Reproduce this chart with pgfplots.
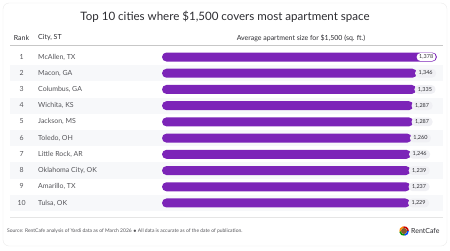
\documentclass[border=0pt]{standalone}
\usepackage{pgfplots}
\pgfplotsset{compat=1.18}
\usepackage{pgfplotstable}
\usepackage{fontspec}
\setmainfont{Lato}
\definecolor{barpurple}{RGB}{124,36,184}
\definecolor{bandgray}{RGB}{247,248,250}
\definecolor{rowtext}{RGB}{85,85,90}
\definecolor{headtext}{RGB}{45,45,50}
\definecolor{pillgray}{RGB}{240,240,244}
\pgfplotstableread{
rank size
1 1378
}\topcity
\pgfplotstableread{
rank size
2 1346
3 1335
4 1287
5 1287
6 1260
7 1246
8 1239
9 1237
10 1229
}\othercities
\begin{document}
\begin{tikzpicture}
\begin{scope}[x=1bp,y=1bp]
\path (0,0) rectangle (450,250);
\draw[black!8, fill=white, rounded corners=6bp] (3,4) rectangle (447,247);
\node[font=\fontsize{11.6}{13}\selectfont, text=headtext] at (225,233) {Top 10 cities where \$1,500 covers most apartment space};
\node[font=\fontsize{7}{8}\selectfont, text=headtext] at (21.5,212) {Rank};
\node[font=\fontsize{7}{8}\selectfont, text=headtext, anchor=west, inner sep=0pt] at (38,212) {City, ST};
\node[font=\fontsize{7}{8}\selectfont, text=headtext] at (301,212) {Average apartment size for \$1,500 (sq. ft.)};
\draw[black!22, line width=0.8bp] (10,205) -- (443,205);
\foreach \r in {2,4,6,8,10} {
  \fill[bandgray] (10,{250-57-(\r-1)*16.22+8.11}) rectangle (443,{250-57-(\r-1)*16.22-8.11});
}
\end{scope}
\begin{axis}[
  at={(162bp,201.1bp)}, anchor=north west,
  scale only axis, width=278bp, height=162.2bp,
  xmin=0, xmax=4630, ymin=0.5, ymax=10.5, y dir=reverse,
  axis line style={draw=none}, tick style={draw=none},
  xtick=\empty, ytick={1,...,10},
  yticklabels={
    {\makebox[19bp][c]{1}\hspace{7bp}McAllen, TX},
    {\makebox[19bp][c]{2}\hspace{7bp}Macon, GA},
    {\makebox[19bp][c]{3}\hspace{7bp}Columbus, GA},
    {\makebox[19bp][c]{4}\hspace{7bp}Wichita, KS},
    {\makebox[19bp][c]{5}\hspace{7bp}Jackson, MS},
    {\makebox[19bp][c]{6}\hspace{7bp}Toledo, OH},
    {\makebox[19bp][c]{7}\hspace{7bp}Little Rock, AR},
    {\makebox[19bp][c]{8}\hspace{7bp}Oklahoma City, OK},
    {\makebox[19bp][c]{9}\hspace{7bp}Amarillo, TX},
    {\makebox[19bp][c]{10}\hspace{7bp}Tulsa, OK}},
  yticklabel style={anchor=west, xshift=-150bp, inner sep=0pt, font=\fontsize{7}{8}\selectfont, text=rowtext},
  clip=false,
  /pgf/number format/.cd, 1000 sep={,}, assume math mode=true,
]
\addplot[xbar, bar width=9bp, draw=none, fill=barpurple, rounded corners=4.5bp,
  point meta=explicit,
  nodes near coords={\pgfmathprintnumber{\pgfplotspointmeta}},
  nodes near coords style={anchor=west, xshift=-2bp, fill=pillgray, rounded corners=4bp, inner xsep=3.5bp, inner ysep=2bp, font=\fontsize{5.5}{6}\selectfont, text=headtext}]
  table[x expr=\thisrow{size}+2900, y=rank, meta=size]{\othercities};
\addplot[xbar, bar width=9bp, draw=none, fill=barpurple, rounded corners=4.5bp,
  point meta=explicit,
  nodes near coords={\pgfmathprintnumber{\pgfplotspointmeta}},
  nodes near coords style={anchor=east, xshift=-1bp, fill=white, rounded corners=3.5bp, inner xsep=2.5bp, inner ysep=1.5bp, font=\fontsize{5.5}{6}\selectfont, text=headtext}]
  table[x expr=\thisrow{size}+3200, y=rank, meta=size]{\topcity};
\end{axis}
\begin{scope}[x=1bp,y=1bp]
\draw[black!10, line width=0.6bp] (10,33) -- (443,33);
\node[font=\fontsize{5}{6}\selectfont, text=rowtext, anchor=west, inner sep=0pt] at (7,19) {Source: RentCafe analysis of Yardi data as of March 2026 $\bullet$ All data is accurate as of the date of publication.};
\begin{scope}[shift={(404,19)}]
\draw[line width=1.6bp, red!80!black] (0:4) arc (0:100:4);
\draw[line width=1.6bp, orange!90!yellow] (100:4) arc (100:190:4);
\draw[line width=1.6bp, green!60!black] (190:4) arc (190:280:4);
\draw[line width=1.6bp, blue!70!cyan] (280:4) arc (280:360:4);
\fill[brown!70!black] (0,0) circle (3bp);
\end{scope}
\node[font=\fontsize{7}{8}\selectfont, text=headtext, anchor=west, inner sep=0pt] at (411,19) {RentCafe};
\end{scope}
\end{tikzpicture}
\end{document}
